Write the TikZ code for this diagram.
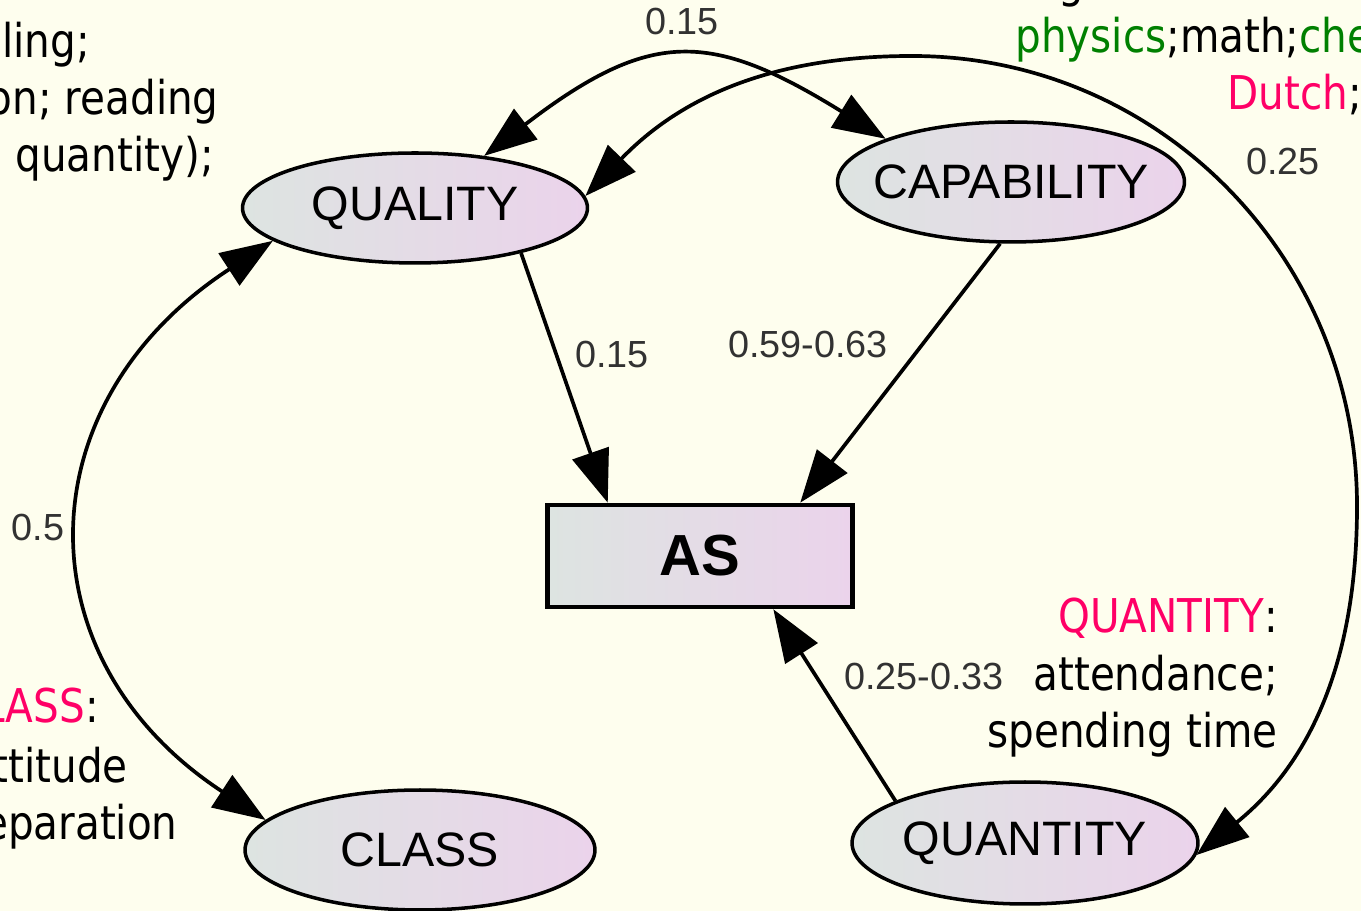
\documentclass[tikz,border=0pt]{standalone}
\usepackage{fontspec}
\usepackage{xcolor}
\usetikzlibrary{shapes.geometric,arrows.meta}
\setmainfont{Liberation Sans}
\newfontfamily\notefont[FakeStretch=0.87]{DejaVu Sans}
\definecolor{bgcream}{RGB}{254,254,238}
\definecolor{shadeL}{RGB}{221,228,225}
\definecolor{shadeR}{RGB}{235,211,235}
\definecolor{hotpink}{RGB}{255,0,102}
\definecolor{subjgreen}{RGB}{0,128,0}
\definecolor{coefgray}{RGB}{50,50,50}
\tikzset{
  latent/.style={ellipse, draw=black, line width=2pt, left color=shadeL, right color=shadeR,
    minimum width=6.9cm, minimum height=2.2cm, inner sep=0pt,
    font=\fontsize{27.5}{30}\selectfont},
  observed/.style={rectangle, draw=black, line width=2.6pt, left color=shadeL, right color=shadeR,
    minimum width=6.1cm, minimum height=2.04cm, inner sep=0pt,
    font=\bfseries\fontsize{33}{36}\selectfont},
  effect/.style={-{Triangle[length=1.05cm,width=0.76cm]}, line width=2.1pt},
  cov/.style={{Triangle[length=1.05cm,width=0.76cm]}-{Triangle[length=1.05cm,width=0.76cm]}, line width=2.1pt},
  coef/.style={text=coefgray, inner sep=0pt, font=\fontsize{21.5}{24}\selectfont},
  note/.style={inner sep=0pt, font=\notefont\fontsize{26.5}{33}\selectfont}
}
\begin{document}
\begin{tikzpicture}[x=0.02cm,y=0.02cm]
        % Background
        \fill[bgcream] (0,0) rectangle (1361,911);
        \useasboundingbox (0,0) rectangle (1361,911);
        % Draw the factors and the outcome
        \node[latent] (QUALITY) at (415,703) {QUALITY};
        \node[latent, inner xsep=-0.4cm, minimum width=6.94cm, minimum height=2.4cm] (CAPABILITY) at (1011,729) {CAPABILITY};
        \node[latent, minimum width=7cm, minimum height=2.4cm] (CLASS) at (420,61) {CLASS};
        \node[latent, inner xsep=-0.1cm, minimum width=6.92cm, minimum height=2.44cm] (QUANTITY) at (1025,68) {QUANTITY};
        \node[observed] (AS) at (700,355) {AS};
        % Draw the direct effects on AS
        \draw[effect] (QUALITY.-23) -- (AS.150);
        \draw[effect] (CAPABILITY.-100) -- (AS.28);
        \draw[effect] (QUANTITY.162) -- (AS.-36);
        % Draw the covariances
        \draw[cov] (QUALITY.193) .. controls (24,508) and (20,252) .. (CLASS.169);
        \draw[cov] (QUALITY.37) .. controls (650,882) and (710,881) .. (CAPABILITY.161);
        \draw[cov] (QUALITY.4) to[out=46,in=180] (912,855) to[out=0,in=90] (1357,405)
            to[out=-90,in=39] (QUANTITY.-4);
        % Label the paths
        \node[coef] (cQualCap) at (682,889) {0.15};
        \node[coef] (cQualQuan) at (1283,749) {0.25};
        \node[coef] (cQualAS) at (612,556) {0.15};
        \node[coef] (cCapAS) at (808,566) {0.59-0.63};
        \node[coef] (cQualCls) at (38,383) {0.5};
        \node[coef] (cQuanAS) at (924,234) {0.25-0.33};
        % Notes on the factors
        \node[note, anchor=base east] (qualA) at (90,853) {ling;};
        \node[note, anchor=base east] (qualB) at (219,796) {on; reading};
        \node[note, anchor=base east] (qualC) at (214,739) {quantity);};
        \node[note, anchor=base west] (capTop) at (1058,913) {g};
        \node[note, anchor=base west] (capA) at (1015,858)
            {\textcolor{subjgreen}{physics};math;\textcolor{subjgreen}{che}};
        \node[note, anchor=base west] (capB) at (1227,801) {\textcolor{hotpink}{Dutch};};
        \node[note, anchor=base east, align=right] (quanA) at (1278,163)
            {\textcolor{hotpink}{QUANTITY}:\\attendance;\\spending time};
        \node[note, anchor=base east] (clsA) at (99,188) {\textcolor{hotpink}{LASS}:};
        \node[note, anchor=base east] (clsB) at (128,128) {ttitude};
        \node[note, anchor=base east] (clsC) at (178,71) {eparation};
    \end{tikzpicture}
\end{document}
